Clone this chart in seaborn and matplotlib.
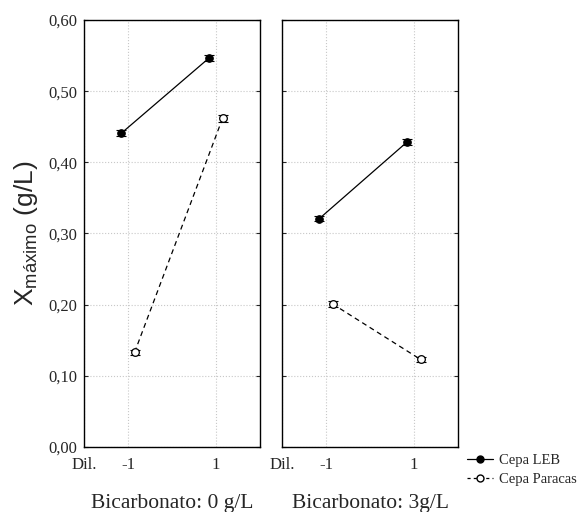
import matplotlib
matplotlib.use("Agg")
import matplotlib.pyplot as plt
import seaborn as sns
import pandas as pd
import numpy as np
from matplotlib.lines import Line2D

# ---- data ----
dil_levels = ["-1", "1"]
strains = ["Cepa LEB", "Cepa Paracas"]
panels = ["Bicarbonato: 0 g/L", "Bicarbonato: 3g/L"]
leb_0 = [0.441, 0.547]
paracas_0 = [0.133, 0.462]
leb_3 = [0.321, 0.429]
paracas_3 = [0.201, 0.123]
leb_0_err = [0.004, 0.004]
paracas_0_err = [0.004, 0.005]
leb_3_err = [0.004, 0.004]
paracas_3_err = [0.004, 0.004]
y_ticks = [0.0, 0.1, 0.2, 0.3, 0.4, 0.5, 0.6]
y_ticklabels = ["0,00", "0,10", "0,20", "0,30", "0,40", "0,50", "0,60"]

series = {
    panels[0]: ([leb_0, paracas_0], [leb_0_err, paracas_0_err]),
    panels[1]: ([leb_3, paracas_3], [leb_3_err, paracas_3_err]),
}

sns.set_style("ticks")
plt.rcParams["font.family"] = ["Liberation Serif", "DejaVu Serif"]

fig = plt.figure(figsize=(5.82, 5.12), dpi=100)
ax_pos = [[84 / 582, 65 / 512, 176 / 582, 427 / 512],
          [282 / 582, 65 / 512, 176 / 582, 427 / 512]]

for i, panel in enumerate(panels):
    ax = fig.add_axes(ax_pos[i])
    vals, errs = series[panel]
    rows = []
    for s, v in zip(strains, vals):
        for d, yv in zip(dil_levels, v):
            rows.append({"dil": d, "x": yv, "cepa": s})
    df = pd.DataFrame(rows)
    sns.pointplot(data=df, x="dil", y="x", hue="cepa", order=dil_levels,
                  hue_order=strains, dodge=0.15, errorbar=None,
                  palette=["black", "black"], markers=["o", "o"],
                  linestyles=["-", "--"], markersize=5.5, linewidth=0.9,
                  legend=False, ax=ax)
    data_lines = [l for l in ax.lines if len(l.get_xdata()) == 2]
    for j, line in enumerate(data_lines[:2]):
        xy = line.get_xydata()
        ax.errorbar(xy[:, 0], xy[:, 1], yerr=errs[j], fmt="none",
                    ecolor="black", elinewidth=0.8, capsize=3.5,
                    capthick=0.8, zorder=5)
        if j == 1:
            line.set_markerfacecolor("white")
            line.set_markeredgecolor("black")
            line.set_markeredgewidth(0.9)
            line.set_dashes([4, 3])
        line.set_zorder(6)
    ax.set_xlim(-0.5, 1.5)
    ax.set_ylim(0, 0.6)
    ax.set_xticks([-0.5, 0, 1])
    ax.set_xticklabels(["Dil.", "-1", "1"])
    ax.set_yticks(y_ticks)
    if i == 0:
        ax.set_yticklabels(y_ticklabels)
        ax.set_ylabel(r"X$_{\mathregular{máximo}}$ (g/L)", fontsize=19,
                      family=["Liberation Sans", "DejaVu Sans"], labelpad=6)
    else:
        ax.set_yticklabels([])
        ax.set_ylabel("")
    ax.set_xlabel(panel, fontsize=15.5, labelpad=15)
    ax.grid(True, color="#c8c8c8", linestyle=":", linewidth=0.8)
    ax.set_axisbelow(True)
    ax.tick_params(direction="in", top=True, right=True, length=3,
                   width=0.8, labelsize=12, pad=5)
    ax.tick_params(axis="x", length=0, pad=7)
    for sp in ax.spines.values():
        sp.set_visible(True)
        sp.set_linewidth(1.0)
        sp.set_color("black")

handles = [
    Line2D([0], [0], color="black", lw=0.9, marker="o", markersize=5,
           markerfacecolor="black"),
    Line2D([0], [0], color="black", lw=0.9, linestyle=(0, (2.5, 2.5)),
           marker="o", markersize=5, markerfacecolor="white"),
]
fig.legend(handles, strains, loc="upper left",
           bbox_to_anchor=(467 / 582, 1 - 454 / 512), frameon=False,
           fontsize=10.5, handlelength=1.75, handletextpad=0.45,
           labelspacing=0.4, borderaxespad=0, borderpad=0)

fig.savefig("out.png", dpi=100)
